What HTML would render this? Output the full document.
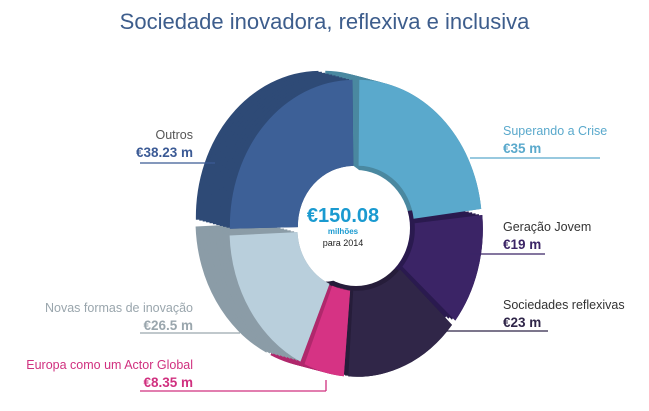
<!DOCTYPE html>
<html><head><meta charset="utf-8"><style>
body{margin:0;background:#fff;}
#c{position:relative;width:649px;height:411px;overflow:hidden;font-family:"Liberation Sans",sans-serif;}
.t{position:absolute;white-space:nowrap;font-size:12.5px;}
.r{text-align:right;}
.b{font-weight:bold;font-size:13.5px;}
</style></head><body><div id="c">
<div class="t" style="left:0;width:649px;text-align:center;top:9px;font-size:22px;color:#3d5d8c;">Sociedade inovadora, reflexiva e inclusiva</div>
<svg id="s" width="649" height="411" style="position:absolute;left:0;top:0"></svg>
<div class="t r" style="right:456px;top:128px;color:#555">Outros</div>
<div class="t r b" style="right:456px;top:145px;color:#3b5a95">€38.23 m</div>
<div class="t r" style="right:456px;top:301px;color:#9aa6ad">Novas formas de inovação</div>
<div class="t r b" style="right:456px;top:318px;color:#9aa6ad">€26.5 m</div>
<div class="t r" style="right:456px;top:358px;color:#d0307f">Europa como um Actor Global</div>
<div class="t r b" style="right:456px;top:375px;color:#d0307f">€8.35 m</div>
<div class="t" style="left:503px;top:124px;color:#5aa9cc">Superando a Crise</div>
<div class="t b" style="left:503px;top:141px;color:#5aa9cc">€35 m</div>
<div class="t" style="left:503px;top:220px;color:#333">Geração Jovem</div>
<div class="t b" style="left:503px;top:237px;color:#3b2466">€19 m</div>
<div class="t" style="left:503px;top:298px;color:#333">Sociedades reflexivas</div>
<div class="t b" style="left:503px;top:315px;color:#2f2548">€23 m</div>
<div class="t" style="left:283px;top:205px;width:120px;text-align:center;font-size:20px;font-weight:bold;color:#1a9ad0">€150.08</div>
<div class="t" style="left:283px;top:227px;width:120px;text-align:center;font-size:8px;font-weight:bold;color:#1a9ad0">milhões</div>
<div class="t" style="left:283px;top:238px;width:120px;text-align:center;font-size:9px;color:#222">para 2014</div>
</div>
<script>
var s=document.getElementById('s'),cx=356,cy=228,RX=124,RY=146,rx=56,ry=60,dx=-34,dy=-9;
var segs=[[35,'#5aa9cc','#4a88a0'],[19,'#3b2466','#2a1a4f'],[23,'#302648','#261d3a'],[8.35,'#d63384','#b0286c'],[26.5,'#b9cfdc','#8b9ca7'],[38.23,'#3d6097','#2e4a76']];
function P(a,ax,ay,ox,oy){var t=(a-90)*Math.PI/180;return [(cx+ox+ax*Math.cos(t)).toFixed(1),(cy+oy+ay*Math.sin(t)).toFixed(1)];}
function sec(a0,a1,ox,oy){var l=(a1-a0)>180?1:0,p1=P(a0,RX,RY,ox,oy),p2=P(a1,RX,RY,ox,oy),p3=P(a1,rx,ry,ox,oy),p4=P(a0,rx,ry,ox,oy);
return 'M'+p1+'A'+RX+','+RY+' 0 '+l+' 1 '+p2+'L'+p3+'A'+rx+','+ry+' 0 '+l+' 0 '+p4+'Z';}
var h='',a=0,tot=150.08,arr=[];
segs.forEach(function(g){var a1=a+g[0]/tot*360;arr.push([a,a1,g]);a=a1;});
arr.forEach(function(x){var m=(x[0]+x[1])/2,t=(m-90)*Math.PI/180,ex=3*Math.cos(t),ey=3*Math.sin(t);
for(var k=1;k>=0;k-=0.1){h+='<path d="'+sec(x[0]+0.6,x[1]-0.6,ex+dx*k,ey+dy*k)+'" fill="'+x[2][2]+'"/>';}});
arr.forEach(function(x){var m=(x[0]+x[1])/2,t=(m-90)*Math.PI/180,ex=3*Math.cos(t),ey=3*Math.sin(t);
h+='<path d="'+sec(x[0]+0.6,x[1]-0.6,ex,ey)+'" fill="'+x[2][1]+'"/>';});
h+='<ellipse cx="'+cx+'" cy="'+cy+'" rx="'+(rx-2)+'" ry="'+(ry-2)+'" fill="#fff"/>';
function L(x1,y1,x2,y2,c){h+='<line x1="'+x1+'" y1="'+y1+'" x2="'+x2+'" y2="'+y2+'" stroke="'+c+'" stroke-width="1.3"/>';}
L(140,163,215,163,'#3b5a95');L(140,333,240,333,'#9aa6ad');
L(140,391,326,391,'#d0307f');L(326,391,326,380,'#d0307f');
L(470,158,600,158,'#5aa9cc');L(470,254,545,254,'#3b2466');L(445,331,548,331,'#2f2548');
s.innerHTML=h;
</script>
</body></html>
